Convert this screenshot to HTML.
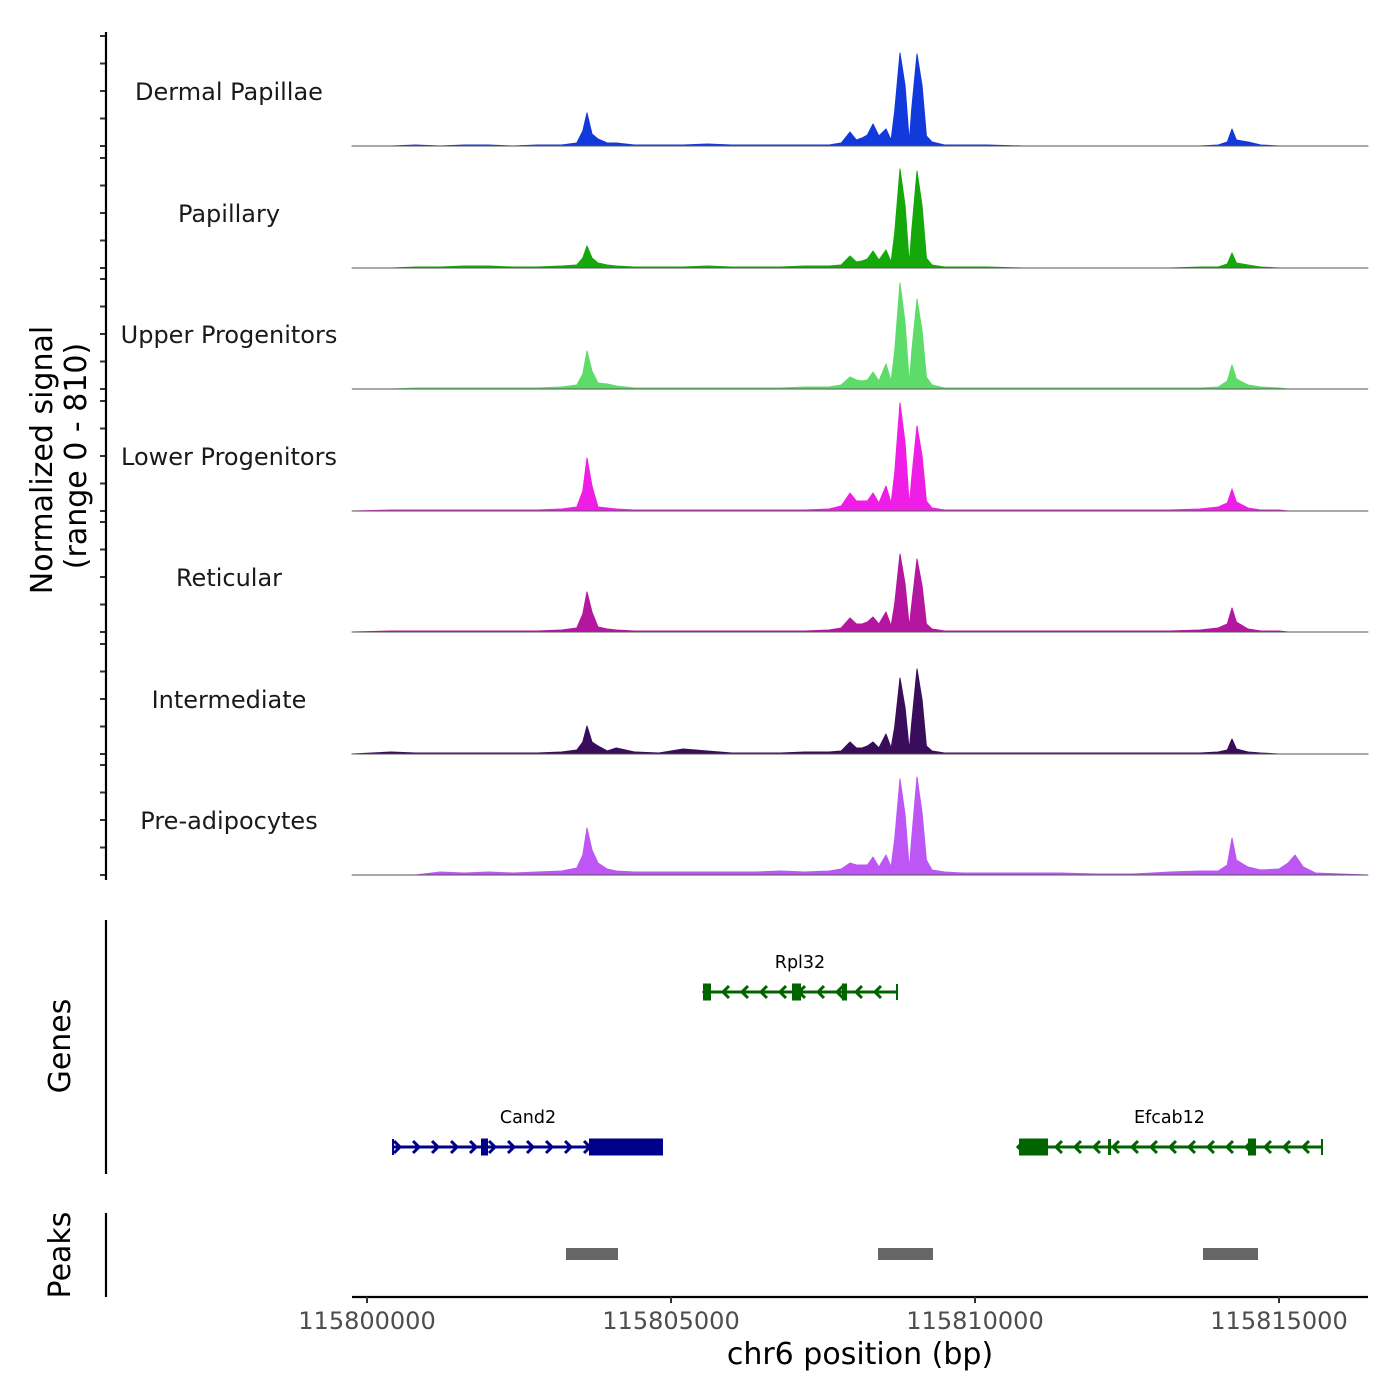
<!DOCTYPE html>
<html><head><meta charset="utf-8">
<style>
html,body{margin:0;padding:0;background:#fff;}
svg{display:block;font-family:"DejaVu Sans","Liberation Sans",sans-serif;}
</style></head>
<body>
<svg id="chart" width="1400" height="1400" viewBox="0 0 1400 1400" xmlns="http://www.w3.org/2000/svg"></svg>
<script>
// genomic positions (bp offset from 115800000)
const positions = [400,800,1200,1600,2000,2400,2800,3200,3450,3550,3618,3700,3800,3950,4100,4400,4800,5200,5600,6000,6400,6800,7200,7600,7800,7944,8050,8141,8230,8322,8420,8536,8620,8680,8766,8850,8920,8960,9046,9130,9200,9293,9500,9800,10200,10800,11400,12000,12600,13200,13700,14000,14150,14227,14300,14490,14700,15000,15150,15263,15400,15600];
const trackNames = ["Dermal Papillae","Papillary","Upper Progenitors","Lower Progenitors","Reticular","Intermediate","Pre-adipocytes"];
const trackColors = ["#1239db","#14a80a","#5ddc6a","#ee1ee6","#b5169f","#3a0c5c","#bd56f5"];
const dermalPapillae = [0,1,0,1,1,0,1,1,3,15,33,12,7,3,3,1,1,1,2,1,1,1,1,1,3,14,6,8,11,22,10,17,6,35,93,60,4,38,92,60,10,4,1,1,1,0,0,0,0,0,0,1,4,17,6,4,1,0,0,0,0,0];
const papillary = [0,1,1,2,2,1,1,2,3,10,22,10,5,3,2,1,1,1,2,1,1,1,2,2,3,12,6,7,9,17,8,18,6,35,99,62,4,38,97,62,10,3,1,1,1,0,0,0,0,0,1,1,4,15,5,3,1,0,0,0,0,0];
const upperProgenitors = [0,1,1,1,1,1,1,2,4,15,38,18,6,5,3,1,1,1,1,1,1,1,2,2,4,12,9,8,9,17,8,25,8,38,106,66,6,38,90,58,12,4,1,1,1,1,1,1,1,1,1,2,8,24,10,4,2,1,0,0,0,0];
const lowerProgenitors = [1,1,1,1,1,1,1,2,4,20,53,25,4,3,2,1,1,1,1,1,1,1,1,2,5,18,10,10,10,18,8,25,8,38,108,68,6,34,85,55,10,3,1,1,1,1,1,1,1,1,2,4,8,22,9,3,1,1,0,0,0,0];
const reticular = [1,1,1,1,1,1,1,2,4,18,40,20,5,3,2,1,1,1,1,1,1,1,1,2,4,14,8,8,10,15,8,20,6,28,78,48,5,28,73,46,8,3,1,1,1,1,1,1,1,1,2,4,8,24,10,3,1,1,0,0,0,0];
const intermediate = [2,1,1,1,1,1,1,2,4,12,28,12,8,3,6,2,1,5,3,1,1,1,2,2,3,12,6,6,8,12,6,20,6,27,76,46,4,32,85,54,8,3,1,1,1,1,1,1,1,1,1,2,4,15,5,2,1,0,0,0,0,0];
const preAdipocytes = [0,0,3,2,3,2,3,4,7,20,47,25,12,6,4,3,3,3,3,3,3,4,3,4,6,12,10,10,10,18,8,20,8,36,96,60,6,38,98,62,15,5,3,2,2,2,2,1,1,3,4,4,10,37,15,8,5,6,12,20,8,2];
const trackValues = [dermalPapillae,papillary,upperProgenitors,lowerProgenitors,reticular,intermediate,preAdipocytes];
const xTicks = [0,5000,10000,15000];
const xTickLabels = ["115800000","115805000","115810000","115815000"];
const yTicks = [0,27.5,55,82.5,110];
// genes
const geneNames = ["Rpl32","Cand2","Efcab12"];
const geneStarts = [5526,428,10690];
const geneEnds = [8717,4868,15707];
const geneStrands = [-1,1,-1];
const geneRows = [0,1,1];
const geneColors = ["#006400","#00008b","#006400"];
const exonGene = [0,0,0,1,1,2,2,2];
const exonStarts = [5526,6990,7812,1875,3651,10724,12188,14490];
const exonEnds = [5658,7138,7895,1990,4868,11201,12238,14622];
const exonThick = [1,1,1,1,1,1,0,1];
// peaks
const peakStarts = [3273,8405,13750];
const peakEnds = [4128,9309,14655];

const NS='http://www.w3.org/2000/svg';
const svg=document.getElementById('chart');
function mk(tag,attrs,parent){const e=document.createElementNS(NS,tag);for(const k in attrs)e.setAttribute(k,attrs[k]);(parent||svg).appendChild(e);return e;}
const xS = bp => 367 + bp*0.0608;
const baselines=[146,268,389,511,632,754,875];
const yS = (v,i) => baselines[i] - v;

trackValues.forEach((vals,i)=>{
  const g=mk('g',{});
  
  
  let d='M352,'+baselines[i];
  positions.forEach((p,j)=>{d+=' L'+xS(p).toFixed(1)+','+yS(vals[j],i).toFixed(1);});
  d+=' L1368,'+baselines[i]+' Z';
  const a=mk('path',{d:d,fill:trackColors[i],stroke:trackColors[i],'stroke-width':1,'stroke-linejoin':'round'},g);
  
  
  const b=mk('line',{x1:352,x2:1368,y1:baselines[i],y2:baselines[i],stroke:'#555','stroke-width':1},g);
  
  
  const t=mk('text',{x:229,y:baselines[i]-46,'font-size':24,'text-anchor':'middle',fill:'#1a1a1a'},g);
  t.textContent=trackNames[i];
  
  
  yTicks.forEach(tv=>{
    const tk=mk('line',{x1:100,x2:106,y1:yS(tv,i),y2:yS(tv,i),stroke:'#333','stroke-width':2},g);
    
    
  });
});
let e=mk('line',{x1:106,x2:106,y1:32,y2:880,stroke:'#000','stroke-width':2.2});


e=mk('text',{transform:'translate(52,460) rotate(-90)','font-size':30,'text-anchor':'middle',fill:'#000'});
e.textContent='Normalized signal';


e=mk('text',{transform:'translate(86,456) rotate(-90)','font-size':30,'text-anchor':'middle',fill:'#000'});
e.textContent='(range 0 - 810)';



const rowY=[992,1147];
e=mk('line',{x1:106,x2:106,y1:920,y2:1174,stroke:'#000','stroke-width':2.2});


e=mk('text',{transform:'translate(70,1046) rotate(-90)','font-size':30,'text-anchor':'middle',fill:'#000'});
e.textContent='Genes';


geneNames.forEach((n,i)=>{
  const g=mk('g',{});
  
  
  const y=rowY[geneRows[i]], c=geneColors[i];
  const x1=xS(geneStarts[i]), x2=xS(geneEnds[i]);
  mk('line',{x1:x1,x2:x2,y1:y,y2:y,stroke:c,'stroke-width':3},g);
  const dir=geneStrands[i];
  for(let x=x1+4;x<x2-4;x+=19){
    mk('path',{d:dir>0?`M${x-3},${y-6} L${x+3},${y} L${x-3},${y+6}`:`M${x+3},${y-6} L${x-3},${y} L${x+3},${y+6}`,fill:'none',stroke:c,'stroke-width':3},g);
  }
  mk('line',{x1:dir>0?x1:x2,x2:dir>0?x1:x2,y1:y-8,y2:y+8,stroke:c,'stroke-width':2},g);
  const t=mk('text',{x:(x1+x2)/2,y:y-24,'font-size':17.5,'text-anchor':'middle',fill:'#000'},g);
  t.textContent=n;
  
  
});
exonStarts.forEach((s,k)=>{
  const gi=exonGene[k], y=rowY[geneRows[gi]];
  const h=exonThick[k]?17:16, w=Math.max(3,xS(exonEnds[k])-xS(s));
  const r=mk('rect',{x:xS(s),y:y-h/2,width:w,height:h,fill:geneColors[gi]});
  
  
});

e=mk('line',{x1:106,x2:106,y1:1213,y2:1297,stroke:'#000','stroke-width':2.2});


e=mk('text',{transform:'translate(70,1255) rotate(-90)','font-size':30,'text-anchor':'middle',fill:'#000'});
e.textContent='Peaks';


peakStarts.forEach((s,k)=>{
  const r=mk('rect',{x:xS(s),y:1248,width:xS(peakEnds[k])-xS(s),height:12,fill:'#666'});
  
  
});

e=mk('line',{x1:352,x2:1368,y1:1297,y2:1297,stroke:'#000','stroke-width':2.2});


xTicks.forEach((v,k)=>{
  const tk=mk('line',{x1:xS(v),x2:xS(v),y1:1297,y2:1303,stroke:'#333','stroke-width':2});
  
  
  const t=mk('text',{x:xS(v),y:1329,'font-size':24,'text-anchor':'middle',fill:'#4d4d4d'});
  t.textContent=xTickLabels[k];
  
  
});
e=mk('text',{x:860,y:1364,'font-size':30,'text-anchor':'middle',fill:'#000'});
e.textContent='chr6 position (bp)';


</script>
</body></html>
